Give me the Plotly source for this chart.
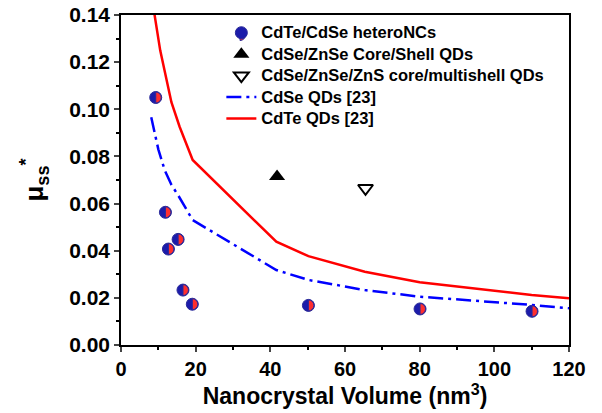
import plotly.graph_objects as go

# CdTe/CdSe heteronanocrystals
het_vol = [9.3, 11.9, 12.7, 15.3, 16.6, 19.1, 50.2, 80.1, 110.1]
het_mu = [0.105, 0.0563, 0.0407, 0.0448, 0.0233, 0.0173, 0.0168, 0.0153, 0.0143]

# core/shell and core/multishell dots
cs_vol = [41.8]
cs_mu = [0.0715]
cms_vol = [65.5]
cms_mu = [0.0665]

# reference curves [23]
cdse_vol = [8.1, 10.0, 11.7, 13.5, 15.5, 19.2, 41.6, 50.2, 65.3, 80.0, 110.0, 120.0]
cdse_mu = [0.0966, 0.083, 0.0742, 0.068, 0.063, 0.053, 0.0318, 0.0276, 0.0233, 0.0205, 0.0170, 0.0156]
cdte_vol = [8.5, 9.0, 10.5, 12.2, 13.5, 15.7, 19.2, 41.6, 50.2, 65.3, 80.0, 110.0, 120.0]
cdte_mu = [0.147, 0.140, 0.125, 0.112, 0.103, 0.0926, 0.0785, 0.0438, 0.0377, 0.0311, 0.0266, 0.0212, 0.0198]

series_names = ["CdTe/CdSe heteroNCs", "CdSe/ZnSe Core/Shell QDs",
                "CdSe/ZnSe/ZnS core/multishell QDs", "CdSe QDs [23]", "CdTe QDs [23]"]

BLUE = "#1c1caa"
RED = "#ff2e2e"
EDGE = "#2a2a9a"
FONT = "Liberation Sans"


def leg(name):
    # larger glyphs inside a compact legend row
    return f'<span style="font-size:16.5px">{name}</span>'


fig = go.Figure()
fig.add_trace(go.Scatter(x=het_vol, y=het_mu, mode="markers", name=leg(series_names[0]),
                         marker=dict(symbol="circle", size=12, color=BLUE,
                                     line=dict(color=EDGE, width=1))))
fig.add_trace(go.Scatter(x=cs_vol, y=cs_mu, mode="markers", name=leg(series_names[1]),
                         marker=dict(symbol="triangle-up", size=14, color="black",
                                     line=dict(width=0))))
fig.add_trace(go.Scatter(x=cms_vol, y=cms_mu, mode="markers", name=leg(series_names[2]),
                         marker=dict(symbol="triangle-down-open", size=13, color="black",
                                     line=dict(color="black", width=2))))
fig.add_trace(go.Scatter(x=cdse_vol, y=cdse_mu, mode="lines", name=leg(series_names[3]),
                         line=dict(color="#0000ff", width=2.5, dash="15px,5px,3px,5px")))
fig.add_trace(go.Scatter(x=cdte_vol, y=cdte_mu, mode="lines", name=leg(series_names[4]),
                         line=dict(color="#ff0000", width=2.5)))

# red right half of each two-tone circle
r = 5.5
k = 0.5523 * r


def half_path(rad, kk):
    return (f"M0,{rad} C{kk},{rad} {rad},{kk} {rad},0 "
            f"C{rad},{-kk} {kk},{-rad} 0,{-rad} Z")


def half_disc(xref, yref, xa, ya):
    return dict(type="path", xref=xref, yref=yref, xsizemode="pixel", ysizemode="pixel",
                xanchor=xa, yanchor=ya, path=half_path(r, k),
                fillcolor=RED, line=dict(color=EDGE, width=1), layer="above")


shapes = [half_disc("x", "y", xv, yv) for xv, yv in zip(het_vol, het_mu)]

LEG_X = 0.224
LEG_Y = 0.994
# same two-tone look for the legend symbol of the heteroNC entry
shapes.append(half_disc("paper", "paper", (240 - 121) / 448, (345 - 35) / 330))

fig.update_layout(
    width=602, height=413,
    margin=dict(l=121, r=33, t=15, b=68, autoexpand=False),
    plot_bgcolor="white", paper_bgcolor="white",
    font=dict(family=FONT, color="black", weight="bold"),
    showlegend=True,
    legend=dict(x=LEG_X, y=LEG_Y, xanchor="left", yanchor="top",
                bgcolor="rgba(0,0,0,0)", font=dict(size=14.2, family=FONT, weight="bold")),
    shapes=shapes,
)
fig.update_xaxes(range=[0, 120], dtick=20, tick0=0, ticks="outside", ticklen=5, tickwidth=1.5,
                 showline=True, linewidth=1.5, linecolor="black", mirror=True,
                 showgrid=False, zeroline=False,
                 tickfont=dict(size=20, family=FONT, weight="bold"),
                 minor=dict(dtick=10, ticks="outside", ticklen=3, tickwidth=1.5, tickcolor="black"),
                 title=dict(text="Nanocrystal Volume (nm<sup>3</sup>)",
                            font=dict(size=23, family=FONT, weight="bold"), standoff=4))
fig.update_yaxes(range=[0, 0.14], dtick=0.02, tick0=0, tickformat=".2f", ticks="outside",
                 ticklen=5, tickwidth=1.5,
                 showline=True, linewidth=1.5, linecolor="black", mirror=True,
                 showgrid=False, zeroline=False,
                 tickfont=dict(size=21, family=FONT, weight="bold"),
                 minor=dict(dtick=0.01, ticks="outside", ticklen=3, tickwidth=1.5, tickcolor="black"),
                 title=dict(text="μ<sub>ss</sub><sup>*</sup>",
                            font=dict(size=26, family=FONT), standoff=18))

fig.write_html("out.html")
